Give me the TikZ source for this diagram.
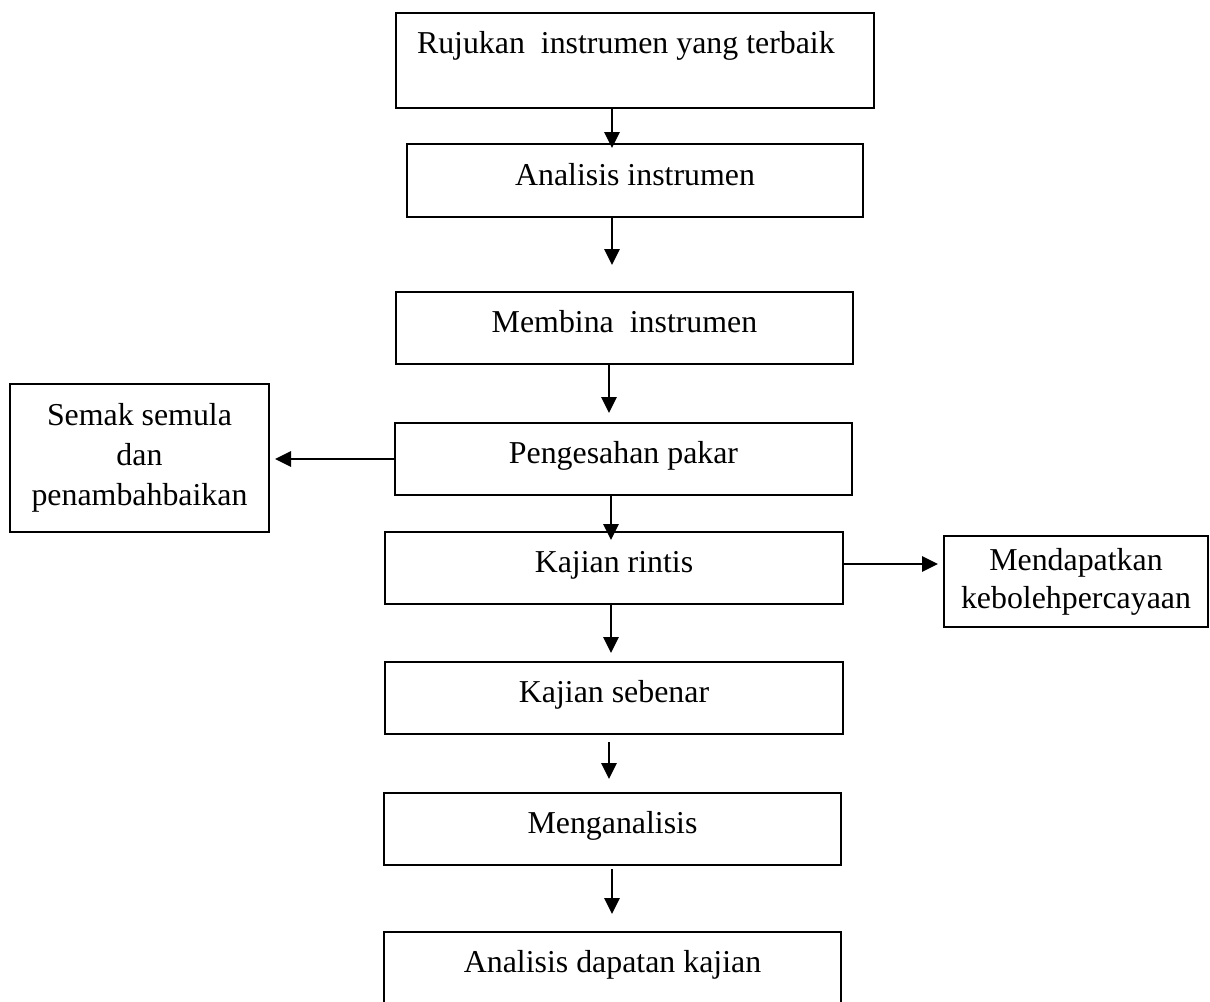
\documentclass[tikz,border=0pt]{standalone}
\usepackage{fontspec}
\setmainfont{Liberation Serif}
\usetikzlibrary{arrows.meta}

\begin{document}
\begin{tikzpicture}[x=0.75pt,y=-0.75pt,
    font=\fontsize{23.9}{30}\selectfont,
    stage/.style={draw, line width=1.3pt, minimum width=342.75pt, minimum height=54pt,
      text height=16.5pt, text depth=9.75pt, inner sep=0pt},
    side/.style={draw, line width=1.8pt, align=center, inner sep=0pt},
    flow/.style={line width=1.3pt, -{Triangle[length=12pt,width=11.5pt]}}]
    \useasboundingbox (0,0) rectangle (1210,1001);

    \node[stage, minimum width=358.5pt, minimum height=71.25pt, text depth=27.75pt,
      text width=327pt, inner xsep=15.75pt, align=flush left] (rujukan) at (635,60.5) {Rujukan\ \ instrumen yang terbaik};
    \node[stage, minimum width=342pt, minimum height=54.75pt] (analisis) at (635,180.5) {Analisis instrumen};
    \node[stage] (membina) at (624.5,328) {Membina\ \ instrumen};
    \node[stage] (pakar) at (623.5,459) {Pengesahan pakar};
    \node[stage, minimum width=343.5pt] (rintis) at (614,568) {Kajian rintis};
    \node[stage, minimum width=343.5pt] (sebenar) at (614,698) {Kajian sebenar};
    \node[stage] (menganalisis) at (612.5,829) {Menganalisis};
    \node[stage] (dapatan) at (612.5,968) {Analisis dapatan kajian};

    \node[side, minimum width=194.25pt, minimum height=111pt] (semak) at (139.5,458) {Semak semula\\dan\\penambahbaikan};
    \node[side, minimum width=198pt, minimum height=68.25pt, font=\fontsize{23.9}{28.5}\selectfont] (kebolehan) at (1076,581.5) {Mendapatkan\\kebolehpercayaan};

    \coordinate (a1) at (612,148);
    \coordinate (a2) at (612,265);
    \coordinate (a3) at (609,413);
    \coordinate (a4) at (611,540);
    \coordinate (a5) at (611,653);
    \coordinate (a6s) at (609,742);
    \coordinate (a6) at (609,779);
    \coordinate (a7s) at (612,869);
    \coordinate (a7) at (612,914);
    \coordinate (kiri) at (275,459);
    \coordinate (kanan) at (938,564);

    \draw[flow] (rujukan.south -| a1) -- (a1);
    \draw[flow] (analisis.south -| a2) -- (a2);
    \draw[flow] (membina.south -| a3) -- (a3);
    \draw[flow] (pakar.south -| a4) -- (a4);
    \draw[flow] (rintis.south -| a5) -- (a5);
    \draw[flow] (a6s) -- (a6);
    \draw[flow] (a7s) -- (a7);
    \draw[flow] (pakar.west |- kiri) -- (kiri);
    \draw[flow] (rintis.east |- kanan) -- (kanan);
\end{tikzpicture}
\end{document}
